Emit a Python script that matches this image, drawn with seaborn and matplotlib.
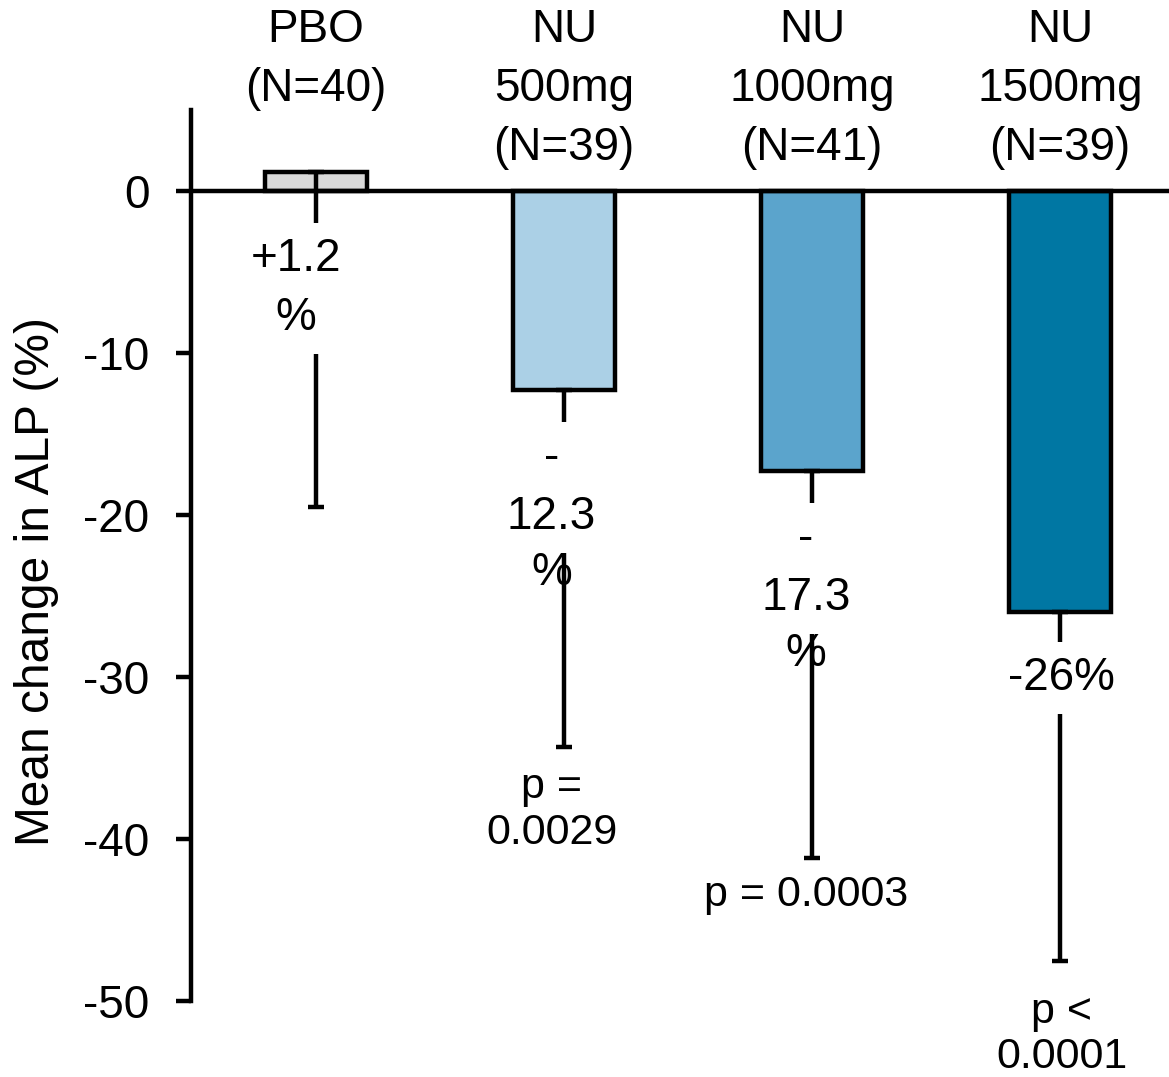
import matplotlib
matplotlib.use("Agg")
import matplotlib.pyplot as plt
import matplotlib.transforms as mtransforms
import seaborn as sns
import pandas as pd

categories = ["PBO", "NU 500mg", "NU 1000mg", "NU 1500mg"]
header_labels = ["PBO\n(N=40)", "NU\n500mg\n(N=39)", "NU\n1000mg\n(N=41)", "NU\n1500mg\n(N=39)"]
mean_change = [1.2, -12.3, -17.3, -26.0]
error_low = [-19.5, -34.3, -41.2, -47.5]
colors = ["#d9d9d9", "#abd0e6", "#5ba4cc", "#0077a3"]
value_boxed = ["+1.2\n%", "-\n12.3", "-\n17.3", "-26%"]
value_boxed_y = [-6.0, -18.3, -23.3, -30.06]
value_tail = ["", "%", "%", ""]
value_tail_y = [None, -23.6, -28.6, None]
label_x_offset = [-0.08, -0.05, -0.024, 0.008]
pvals = ["", "p =\n0.0029", "p = 0.0003", "p <\n0.0001"]
pval_y = [None, -38.2, -43.46, -52.07]
yticks = [0, -10, -20, -30, -40, -50]

sns.set_theme(style="white")
plt.rcParams["font.family"] = ["Liberation Sans", "DejaVu Sans"]
for k in ["text.color", "axes.labelcolor", "xtick.color", "ytick.color", "axes.edgecolor"]:
    plt.rcParams[k] = "black"

df = pd.DataFrame({"group": categories, "change": mean_change})

fig = plt.figure(figsize=(11.69, 10.77), dpi=100)
ax = fig.add_axes([191/1169, 1-1001/1077, 1-191/1169, (1001-110)/1077])

sns.barplot(data=df, x="group", y="change", hue="group", palette=colors,
            saturation=1, width=0.41, edgecolor="black", linewidth=3.2,
            legend=False, ax=ax, zorder=2)

xs = list(range(len(categories)))
lower = [m - e for m, e in zip(mean_change, error_low)]
ax.errorbar(xs, mean_change, yerr=[lower, [0]*len(xs)], fmt="none",
            ecolor="black", elinewidth=3.2, capsize=6, capthick=3.2, zorder=3)

ax.axhline(0, color="black", lw=3.2, zorder=4)

ax.set_ylim(-50, 5)
ax.set_xlim(-0.504, 3.44)
ax.set_yticks(yticks)
ax.set_yticklabels([str(t) for t in yticks], fontsize=33)
ax.tick_params(axis="y", length=11, width=3.2, pad=19, color="black", left=True)
ax.tick_params(axis="x", length=0, labelbottom=False)
ax.set_xlabel("")
ax.set_ylabel("Mean change in ALP (%)", fontsize=34.5)
ax.yaxis.set_label_coords(-0.135, 0.471)
for s in ["top", "right", "bottom"]:
    ax.spines[s].set_visible(False)
ax.spines["left"].set_linewidth(3.2)
ax.spines["left"].set_color("black")
ax.spines["left"].set_bounds(-50, 5)

trans = mtransforms.blended_transform_factory(ax.transData, ax.transAxes)
for i, lab in enumerate(header_labels):
    ax.text(i, 1.114, lab, transform=trans, ha="center", va="top",
            fontsize=33, linespacing=1.44, clip_on=False)

for i in range(len(categories)):
    x = i + label_x_offset[i]
    ax.text(x, value_boxed_y[i], value_boxed[i], ha="center", va="center",
            fontsize=33, linespacing=1.45, zorder=5,
            bbox=dict(facecolor="white", edgecolor="none", boxstyle="square,pad=0.3"))
    if value_tail[i]:
        ax.text(x, value_tail_y[i], value_tail[i], ha="center", va="center",
                fontsize=33, zorder=6)
    if pvals[i]:
        ax.text(x, pval_y[i], pvals[i], ha="center", va="center",
                fontsize=31, linespacing=1.18, zorder=6, clip_on=False)

fig.savefig("out.png", dpi=100)
